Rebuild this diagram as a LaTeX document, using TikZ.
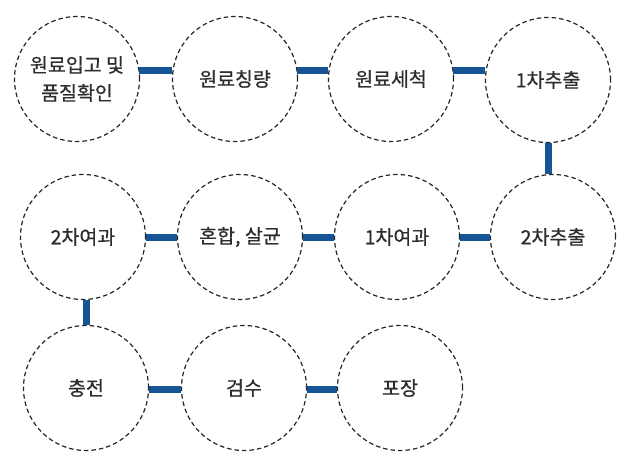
\documentclass[tikz,border=0pt]{standalone}
\usepackage{fontspec}
\setmainfont{Noto Sans CJK KR}[FakeBold=0.7]
\definecolor{barblue}{RGB}{22,84,150}
\definecolor{txtgray}{RGB}{45,45,45}
\begin{document}
\begin{tikzpicture}[x=1pt,y=-1pt,
  stepcircle/.style={circle,draw=black!85,line width=1.2pt,dash pattern=on 4.5pt off 3pt,
    minimum size=125pt,inner sep=0pt,align=center,text=txtgray,
    font=\fontsize{19.5}{28}\selectfont},
  bar/.style={draw=barblue,line width=7pt,line cap=butt}]
\useasboundingbox (0,0) rectangle (628,462);
% row 1
\node[stepcircle] (c1) at (77,79) {원료입고 및\\품질확인};
\node[stepcircle] (c2) at (235,79) {원료칭량};
\node[stepcircle] (c3) at (391,79) {원료세척};
\node[stepcircle] (c4) at (548,80) {1차추출};
% row 2
\node[stepcircle] (c5) at (553,237) {2차추출};
\node[stepcircle] (c6) at (397,237) {1차여과};
\node[stepcircle] (c7) at (240,237) {혼합, 살균};
\node[stepcircle] (c8) at (83,237) {2차여과};
% row 3
\node[stepcircle] (c9) at (86,388) {충전};
\node[stepcircle] (c10) at (244,388) {검수};
\node[stepcircle] (c11) at (400,388) {포장};
% connectors
\draw[bar] (c1.8) -- (c1.8 -| c2.west);
\draw[bar] (c2.8) -- (c2.8 -| c3.west);
\draw[bar] (c3.8) -- (c3.8 -| c4.west);
\draw[bar] (c4.south) -- (c4.south |- c5.north);
\draw[bar] (c5.west) -- (c6.east);
\draw[bar] (c6.west) -- (c7.east);
\draw[bar] (c7.west) -- (c8.east);
\draw[bar] (c9.north) -- (c9.north |- c8.south);
\draw[bar] (c9.-1) -- (c10.181);
\draw[bar] (c10.-1) -- (c11.181);
\end{tikzpicture}
\end{document}
